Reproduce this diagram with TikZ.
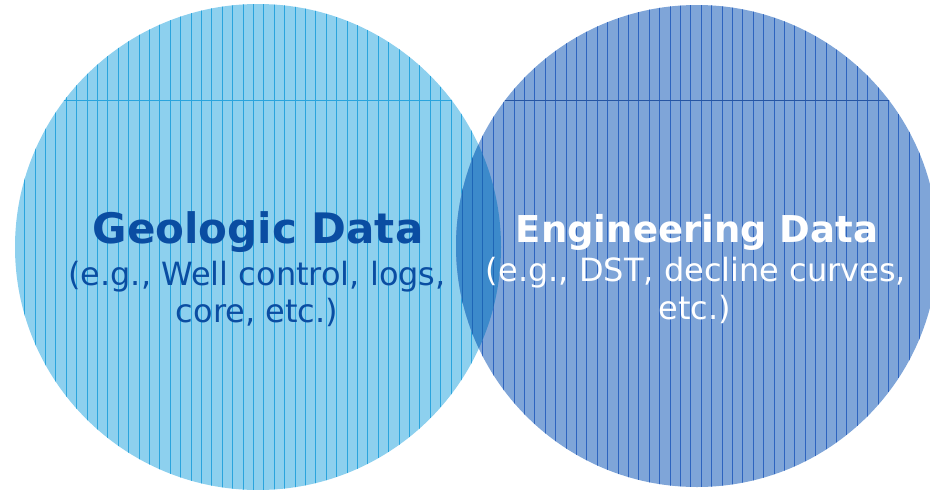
\documentclass[tikz,border=0pt]{standalone}
\usepackage{fontspec}
\setmainfont{DejaVu Sans}
\definecolor{geofill}{HTML}{8DD0EE}
\definecolor{geoline}{HTML}{2AA4DD}
\definecolor{engfill}{HTML}{7FA5D8}
\definecolor{engline}{HTML}{2E64BF}
\definecolor{bothfill}{HTML}{3C8ACB}
\definecolor{bothline}{HTML}{1E66B6}
\definecolor{geotext}{HTML}{0A4DA2}
\begin{document}
\begin{tikzpicture}[x=1pt,y=-1pt,
  hatch/.style={line width=0.9pt},
  titletext/.style={anchor=base, font=\bfseries\fontsize{#1}{#1}\selectfont},
  subtext/.style={anchor=base, font=\fontsize{32}{38}\selectfont}]
\useasboundingbox (0,0) rectangle (930,490);
\coordinate (gc) at (258,247);
\coordinate (ec) at (697,246);

% geologic circle with vertical hatching
\fill[geofill] (gc) circle[radius=243];
\begin{scope}
  \clip (gc) circle[radius=243];
  \foreach \i in {0,...,48} \draw[geoline,hatch] ({14.2+10.4*\i},0) -- ++(0,490);
  \draw[geoline,line width=1pt] (0,100) -- (930,100);
\end{scope}

% engineering circle with vertical hatching
\fill[engfill] (ec) circle[radius=241];
\begin{scope}
  \clip (ec) circle[radius=241];
  \foreach \i in {0,...,48} \draw[engline,hatch] ({451.7+10.4*\i},0) -- ++(0,490);
  \draw[engline!85!black,line width=1pt] (0,100) -- (930,100);
\end{scope}

% shared region of the two circles
\begin{scope}
  \clip (gc) circle[radius=243];
  \clip (ec) circle[radius=241];
  \fill[bothfill] (0,0) rectangle (930,490);
  \foreach \i in {0,...,8} \draw[bothline,hatch] ({451.7+10.4*\i},0) -- ++(0,490);
\end{scope}

% labels
\node[titletext=42, geotext] (geotitle) at (258,243) {Geologic Data};
\node[subtext, geotext] (geosub1) at (257,285) {(e.g., Well control, logs,};
\node[subtext, geotext] (geosub2) at (257,322) {core, etc.)};

\node[titletext=37, white] (engtitle) at (697,242) {Engineering Data};
\node[subtext, white] (engsub1) at (696,281) {(e.g., DST, decline curves,};
\node[subtext, white] (engsub2) at (695,319) {etc.)};
\end{tikzpicture}
\end{document}
